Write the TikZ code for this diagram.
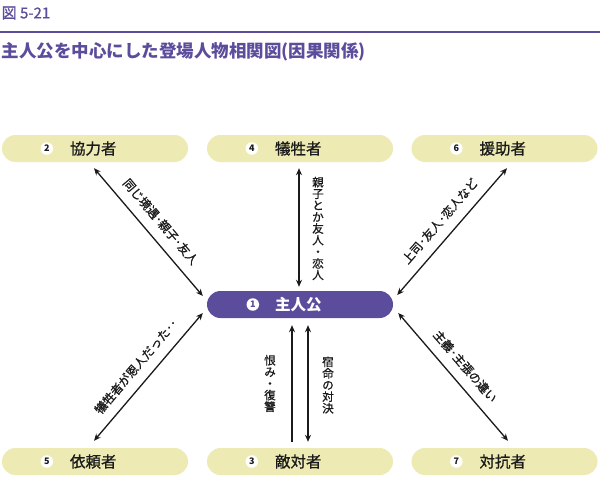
\documentclass[tikz,border=0pt]{standalone}
\usepackage{fontspec}
\setmainfont{Noto Sans CJK JP}
\newfontfamily\jpmed{Noto Sans CJK JP}[FakeBold=0.9]
\usetikzlibrary{arrows.meta,calc}
\definecolor{pillY}{HTML}{EDEBB3}
\definecolor{purp}{HTML}{5C4D9C}
\definecolor{ink}{HTML}{1A1A1A}
\tikzset{
  pill/.style={rounded corners=13.5pt, minimum width=186pt, minimum height=27pt, inner sep=0pt, fill=pillY, draw=none},
  mainpill/.style={pill, fill=purp},
  numc/.style={circle, fill=white, minimum size=12.5pt, inner sep=0pt, font=\fontsize{9}{9}\selectfont\bfseries, text=ink},
  lab/.style={anchor=west, inner sep=0pt, font=\jpmed\fontsize{15.5}{16}\selectfont, text=ink},
  arr/.style={{Stealth[length=7pt,width=6pt]}-{Stealth[length=7pt,width=6pt]}, line width=1.3pt, ink},
  uparr/.style={-{Stealth[length=7pt,width=6pt]}, line width=1.3pt, ink},
  slab/.style={sloped, above=10pt, inner sep=0pt, font=\jpmed\fontsize{12}{12}\selectfont, text=ink},
  vlab/.style={align=center, inner sep=0pt, font=\jpmed\fontsize{11.5}{11.6}\selectfont, text=ink}
}
\begin{document}
\begin{tikzpicture}[x=1pt,y=-1pt]
\useasboundingbox[fill=white] (0,0) rectangle (600,487);
% header
\node[anchor=west, inner sep=0pt, font=\jpmed\fontsize{15}{15}\selectfont, text=purp] (fig) at (1.5,13) {図 5-21};
\draw[purp, line width=2.5pt] (0,32) -- (600,32);
\node[anchor=west, inner sep=0pt, font=\fontsize{17.5}{18}\selectfont\bfseries, text=purp] (ttl) at (1.5,52) {主人公を中心にした登場人物相関図(因果関係)};
% boxes
\node[pill] (b2) at (95,148.5) {};
\node[pill] (b4) at (300,148.5) {};
\node[pill] (b6) at (504.5,148.5) {};
\node[mainpill] (m) at (300,304.5) {};
\node[pill] (b5) at (95,461.5) {};
\node[pill] (b3) at (300,461.5) {};
\node[pill] (b7) at (504.5,461.5) {};
% numbers and labels
\foreach \b/\n/\t in {b2/2/協力者, b4/4/犠牲者, b6/6/援助者, b5/5/依頼者, b3/3/敵対者, b7/7/対抗者}{
  \node[numc] (n\b) at ($(\b.west)+(45,0)$) {\n};
  \node[lab] (t\b) at ($(\b.west)+(68,0)$) {\t};
}
\node[numc, text=purp] (nm) at ($(m.west)+(46,0)$) {1};
\node[lab, text=white, font=\fontsize{15.5}{16}\selectfont\bfseries] (tm) at ($(m.west)+(68,0)$) {主人公};
% connectors
\draw[arr] ($(b2.south)+(-1,6)$) -- node[slab] (l21) {同じ境遇･親子･友人} ($(m.west)+(-4,-8.5)$);
\draw[arr] ($(b4.south)+(-1,6)$) -- ($(m.north)+(-1,-4)$);
\node[vlab] (l41) at (318,228.5) {親\\子\\と\\か\\友\\人\\・\\恋\\人};
\draw[arr] ($(m.east)+(4,-9.5)$) -- node[slab] (l61) {上司･友人･恋人など} ($(b6.south)+(2.5,6)$);
\draw[arr] ($(b5.north)+(-1,-7)$) -- node[slab] (l51) {犠牲者が恩人だった･･} ($(m.west)+(-4,8.5)$);
\draw[uparr] ($(b3.north)+(-8,-6)$) -- ($(m.south)+(-8,7)$);
\node[vlab] (l31) at (270,383.5) {恨\\み\\・\\復\\讐};
\draw[arr] ($(m.south)+(8,7)$) -- ($(b3.north)+(8,-6)$);
\node[vlab] (l13) at (328,385) {宿\\命\\の\\対\\決};
\draw[arr] ($(m.east)+(5,8.5)$) -- node[slab] (l71) {主義･主張の違い} ($(b7.north)+(3.5,-7)$);
\end{tikzpicture}
\end{document}
